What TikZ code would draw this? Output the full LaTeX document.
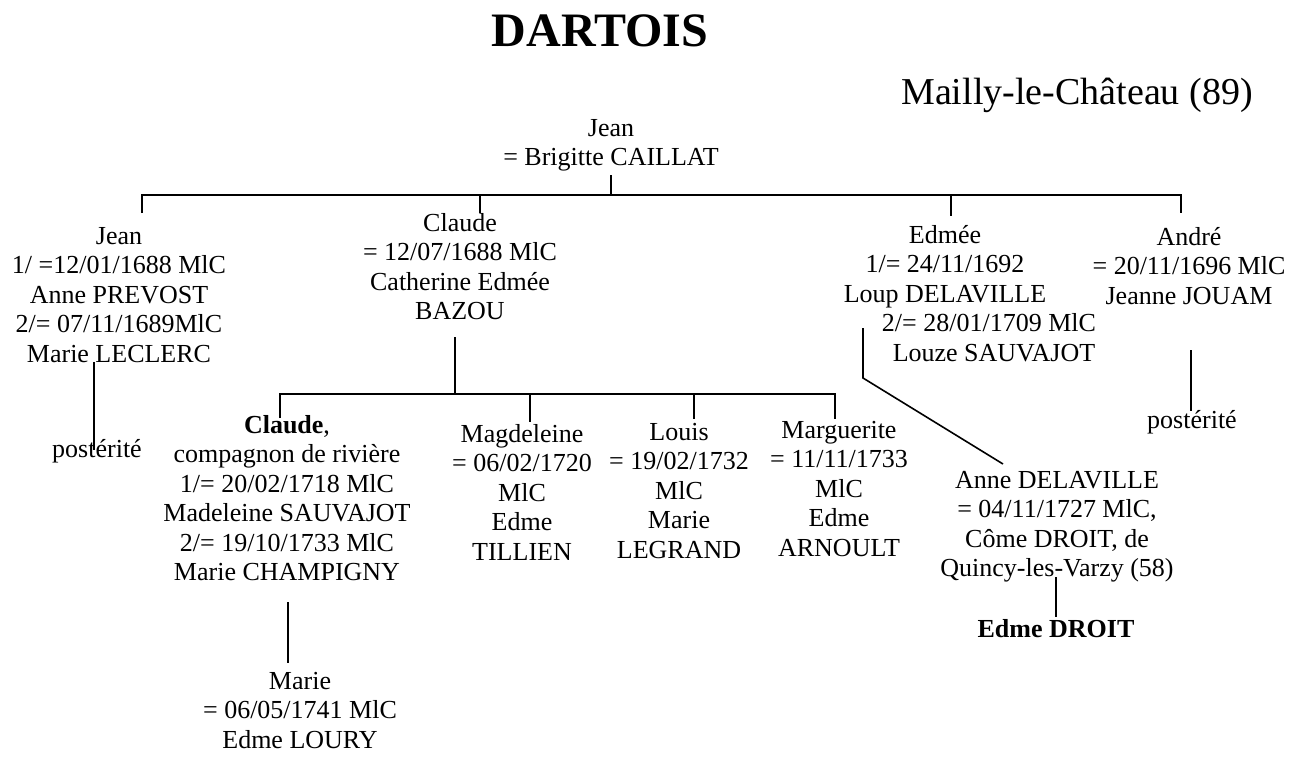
\documentclass[tikz,border=0pt]{standalone}
\usepackage{fontspec}
\setmainfont{Liberation Serif}
\begin{document}
\begin{tikzpicture}[x=1pt,y=-1pt,
  blk/.style={anchor=north, align=center, inner sep=0pt, font=\fontsize{26}{29.5}\selectfont},
  one/.style={anchor=base, inner sep=0pt, font=\fontsize{26}{29.5}\selectfont},
  conn/.style={line width=1.6pt, line join=miter}]
\fill[white] (0,0) rectangle (1304,756);
\useasboundingbox (0,0) rectangle (1304,756);
% titles
\node[anchor=base, inner sep=0pt, font=\fontsize{48}{52}\selectfont\bfseries] (title) at (600,46) {DARTOIS};
\node[anchor=base, inner sep=0pt, font=\fontsize{38}{42}\selectfont] (place) at (1077,104) {Mailly-le-Château (89)};
% blocks (y = first baseline - 20.65)
\node[blk] (root) at (611,136-20.65) {\strut Jean\\= Brigitte CAILLAT};
\node[blk] (jean) at (119,244-20.65) {\strut Jean\\1/ =12/01/1688 MlC\\Anne PREVOST\\2/= 07/11/1689MlC\\Marie LECLERC};
\node[one] (post1) at (97,457) {postérité};
\node[blk] (claude) at (460,231-20.65) {\strut Claude\\= 12/07/1688 MlC\\Catherine Edmée\\BAZOU};
\node[blk] (edmee) at (945,243-20.65) {\strut Edmée\\1/= 24/11/1692\\Loup DELAVILLE\\\hspace*{88pt}2/= 28/01/1709 MlC\\\hspace*{98pt}Louze SAUVAJOT};
\node[blk] (andre) at (1189,245-20.65) {\strut André\\= 20/11/1696 MlC\\Jeanne JOUAM};
\node[one] (post2) at (1192,428) {postérité};
\node[blk] (claude2) at (287,433-20.65) {\strut\textbf{Claude},\\compagnon de rivière\hspace*{36pt}\\1/= 20/02/1718 MlC\\Madeleine SAUVAJOT\\2/= 19/10/1733 MlC\\Marie CHAMPIGNY};
\node[blk] (marie) at (300,689-20.65) {\strut Marie\\= 06/05/1741 MlC\\Edme LOURY};
\node[blk] (magd) at (522,442-20.65) {\strut Magdeleine\\= 06/02/1720\\MlC\\Edme\\TILLIEN};
\node[blk] (louis) at (679,440-20.65) {\strut Louis\\= 19/02/1732\\MlC\\Marie\\LEGRAND};
\node[blk] (marg) at (839,438-20.65) {\strut Marguerite\\= 11/11/1733\\MlC\\Edme\\ARNOULT};
\node[blk] (anne) at (1057,488-20.65) {\strut Anne DELAVILLE\\= 04/11/1727 MlC,\\Côme DROIT, de\\Quincy-les-Varzy (58)};
\node[one, font=\fontsize{26}{29.5}\selectfont\bfseries] (droit) at (1056,637) {Edme DROIT};
% connector points
\coordinate (rootB) at (611,175);
\coordinate (rootBar) at (611,195);
\coordinate (jeanT) at (142,213);
\coordinate (jeanBar) at (142,195);
\coordinate (claudeT) at (480,213);
\coordinate (claudeBar) at (480,195);
\coordinate (edmeeT) at (951,216);
\coordinate (edmeeBar) at (951,195);
\coordinate (andreT) at (1181,213);
\coordinate (andreBar) at (1181,195);
\coordinate (jeanB) at (94,362);
\coordinate (post1T) at (94,450);
\coordinate (claudeB) at (455,337);
\coordinate (claudeBar2) at (455,394);
\coordinate (c2T) at (280,418);
\coordinate (c2Bar) at (280,394);
\coordinate (magdT) at (530,422);
\coordinate (magdBar) at (530,394);
\coordinate (louisT) at (694,419);
\coordinate (louisBar) at (694,394);
\coordinate (margT) at (835,419);
\coordinate (margBar) at (835,394);
\coordinate (c2B) at (288,602);
\coordinate (marieT) at (288,663);
\coordinate (edmeeB) at (863,328);
\coordinate (edmeeK) at (863,378);
\coordinate (anneT) at (1003,464);
\coordinate (andreB) at (1191,350);
\coordinate (post2T) at (1191,411);
\coordinate (anneB) at (1056,577);
\coordinate (droitT) at (1056,617);
% connectors
\draw[conn] (rootB) -- (rootBar);
\draw[conn] (jeanT) -- (jeanBar) -- (andreBar) -- (andreT);
\draw[conn] (claudeBar) -- (claudeT);
\draw[conn] (edmeeBar) -- (edmeeT);
\draw[conn] (jeanB) -- (post1T);
\draw[conn] (claudeB) -- (claudeBar2);
\draw[conn] (c2T) -- (c2Bar) -- (margBar) -- (margT);
\draw[conn] (magdBar) -- (magdT);
\draw[conn] (louisBar) -- (louisT);
\draw[conn] (c2B) -- (marieT);
\draw[conn] (edmeeB) -- (edmeeK) -- (anneT);
\draw[conn] (andreB) -- (post2T);
\draw[conn] (anneB) -- (droitT);
\end{tikzpicture}
\end{document}
